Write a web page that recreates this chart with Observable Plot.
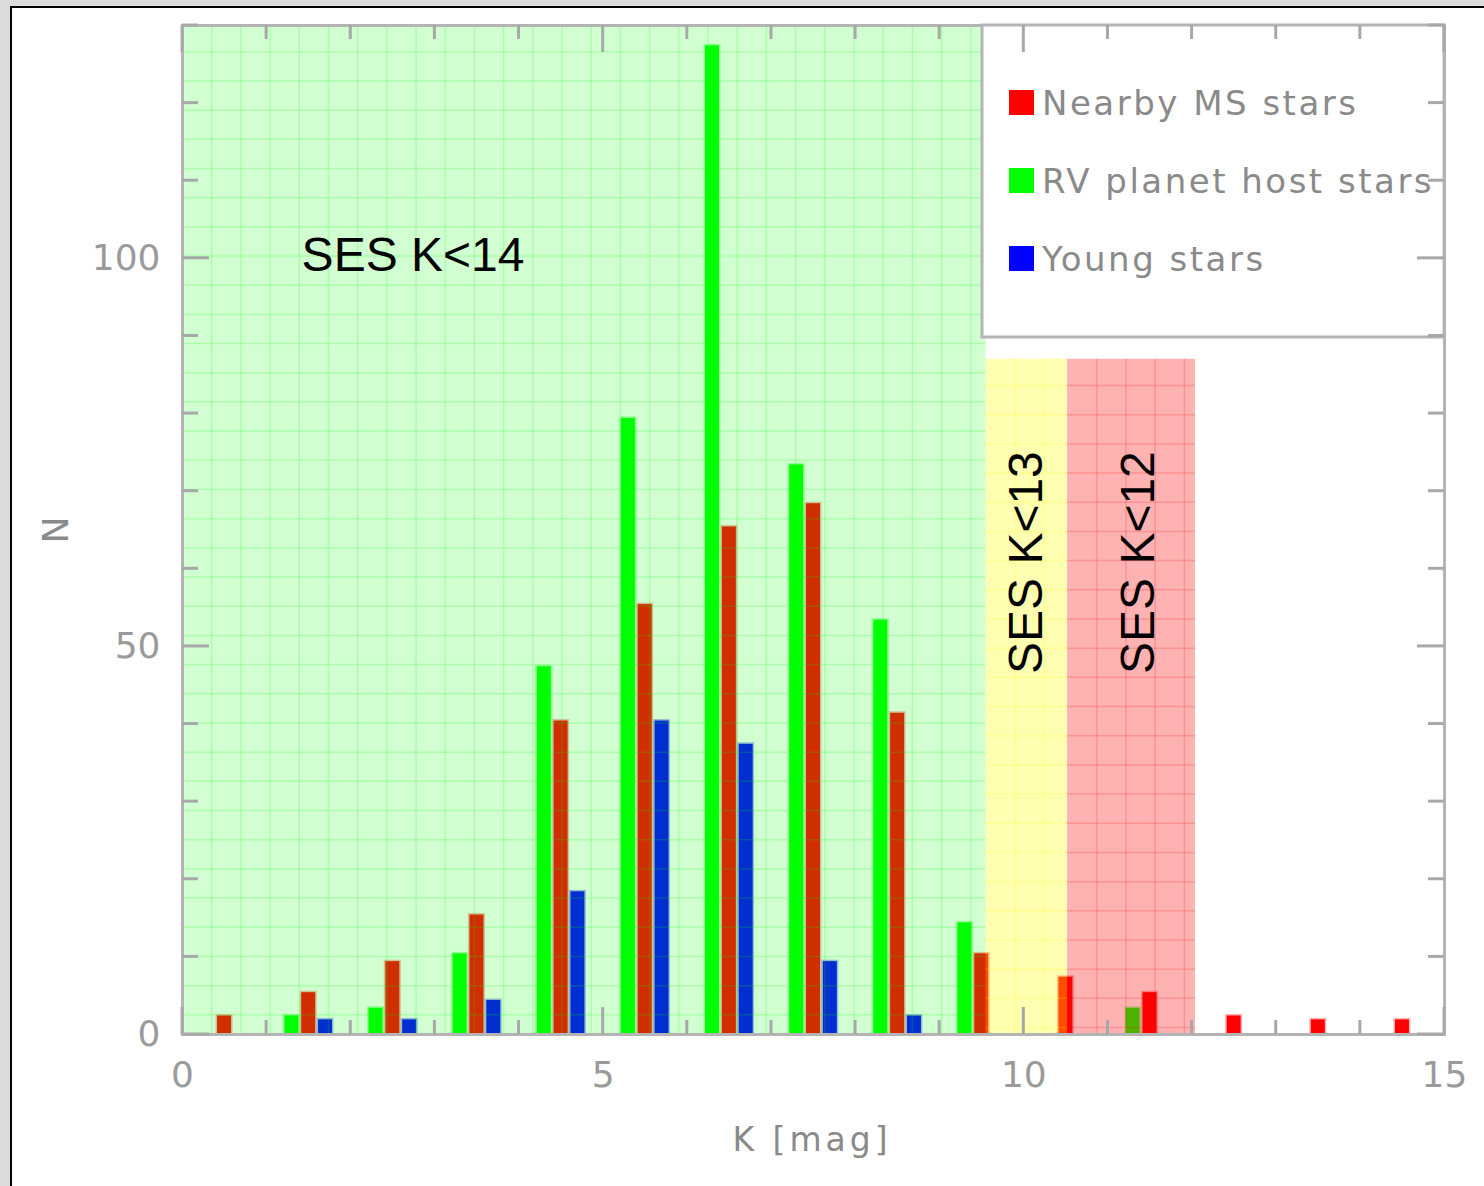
<!DOCTYPE html>
<html>
<head>
<meta charset="utf-8">
<script src="https://cdn.jsdelivr.net/npm/d3@7"></script>
<script src="https://cdn.jsdelivr.net/npm/@observablehq/plot@0.6"></script>
<style>
  html, body { margin: 0; padding: 0; background: #dcdcdc; overflow: hidden; }
  #panel {
    position: absolute; left: 10px; top: 6px; width: 1480px; height: 1190px;
    background: #ffffff; border-left: 2px solid #000; border-top: 2px solid #000;
  }
  #panel svg { display: block; }
</style>
</head>
<body>
<div id="panel"></div>
<script>
// K-band magnitude bins (lower edge of each 1-mag bin)
const bins = [0, 1, 2, 3, 4, 5, 6, 7, 8, 9, 10, 11, 12, 13, 14];

// Number of stars per bin for each sample
const nearbyMS   = [2, 5, 9, 15, 40, 55, 65, 68, 41, 10, 7, 5, 2, 1.5, 1.5];
const rvHosts    = [0, 2, 3, 10, 47, 79, 127, 73, 53, 14, 0, 3, 0, 0, 0];
const youngStars = [0, 1.5, 1.5, 4, 18, 40, 37, 9, 2, 0, 0, 0, 0, 0, 0];

// Sample names and colours (legend order)
const seriesNames  = ["Nearby MS stars", "RV planet host stars", "Young stars"];
const seriesColors = ["#ff0000", "#00ff00", "#0000ff"];

// Survey depth zones: K limit reached per zone
const zoneLabels = ["SES K<14", "SES K<13", "SES K<12"];
const zoneFrom   = [0, 9.55, 10.52];
const zoneTo     = [9.55, 10.52, 12.04];
const zoneTop    = [130, 87, 87];
const zoneColors = ["#00ff00", "#ffff00", "#ff0000"];

// Axis ticks
const xTickLabels = [0, 5, 10, 15];
const yTickLabels = [0, 50, 100];

// ---- build tables ----
const slotOffset = { "Nearby MS stars": 0.5, "RV planet host stars": 0.3, "Young stars": 0.7 };
const halfWidth = 0.083;
const seriesValues = [nearbyMS, rvHosts, youngStars];
const bars = [];
seriesNames.forEach((name, s) => {
  bins.forEach((b, i) => {
    const n = seriesValues[s][i];
    if (n > 0) {
      const c = b + slotOffset[name];
      bars.push({ series: name, color: seriesColors[s], x1: c - halfWidth, x2: c + halfWidth, n });
    }
  });
});

const zones = zoneLabels.map((label, i) => ({
  label, from: zoneFrom[i], to: zoneTo[i], top: zoneTop[i], color: zoneColors[i]
}));

// fine square grid inside each zone
const gridDx = 0.347, gridDy = 3.76;
const gridV = [], gridH = [];
zones.forEach(z => {
  d3.range(z.from + gridDx, z.to - 0.02, gridDx).forEach(x => gridV.push({ x, top: z.top, color: z.color }));
  d3.range(z.top - gridDy * 0.9, 0.5, -gridDy).forEach(y => gridH.push({ y, from: z.from, to: z.to, color: z.color }));
});

const zoneText = [
  { label: zoneLabels[0], x: 2.74, y: 100.3, rotate: 0 },
  { label: zoneLabels[1], x: 10.03, y: 60.8, rotate: -90 },
  { label: zoneLabels[2], x: 11.36, y: 60.8, rotate: -90 }
];

const W = 1472, H = 1178;
const axisGrey = "#9a9a9a";

const barMarks = seriesNames.map((name, s) =>
  Plot.rectY(bars.filter(d => d.series === name), {
    x1: "x1", x2: "x2", y1: 0, y2: "n",
    fill: seriesColors[s], stroke: seriesColors[s], strokeOpacity: 0.3, strokeWidth: 3,
    insetTop: -3
  })
);

const plot = Plot.plot({
  width: W, height: H,
  marginLeft: 170, marginRight: 40, marginTop: 17, marginBottom: 152,
  x: { domain: [0, 15] },
  y: { domain: [0, 130] },
  style: { background: "transparent", fontFamily: "DejaVu Sans", overflow: "visible" },
  marks: [
    ...barMarks,
    Plot.rect(zones, { x1: "from", x2: "to", y1: 0, y2: "top", fill: "color", fillOpacity: d => d.label === zoneLabels[0] ? 0.18 : 0.3 }),
    Plot.ruleX(gridV, { x: "x", y1: 0, y2: "top", stroke: "color", strokeOpacity: 0.18, strokeWidth: 1.5 }),
    Plot.ruleY(gridH, { y: "y", x1: "from", x2: "to", stroke: "color", strokeOpacity: 0.18, strokeWidth: 1.5 }),
    Plot.text(zoneText.filter(d => d.rotate === 0), {
      x: "x", y: "y", text: "label", fontSize: 48, fontFamily: "Liberation Sans", fill: "#000"
    }),
    Plot.text(zoneText.filter(d => d.rotate !== 0), {
      x: "x", y: "y", text: "label", rotate: -90, fontSize: 48, fontFamily: "Liberation Sans", fill: "#000"
    }),
    Plot.frame({ stroke: "#b4b4b4", strokeWidth: 3 }),
    Plot.axisX(xTickLabels, { tickSize: 0, tickPadding: 27, fontSize: 36, color: axisGrey, label: null }),
    Plot.axisY(yTickLabels, { tickSize: 0, tickPadding: 22, fontSize: 36, color: axisGrey, label: null })
  ]
});

document.getElementById("panel").appendChild(plot);

// ---- legend box, frame ticks and axis titles ----
const svg = d3.select(plot);
const sx = plot.scale("x"), sy = plot.scale("y");
const X = v => sx.apply(v), Y = v => sy.apply(v);

const legend = svg.append("g").attr("text-anchor", "start");
legend.append("rect")
  .attr("x", 970).attr("y", Y(130))
  .attr("width", X(15) - 970).attr("height", 312)
  .attr("fill", "#fff").attr("stroke", "#b4b4b4").attr("stroke-width", 3);
seriesNames.forEach((name, i) => {
  const y0 = 82 + i * 78;
  legend.append("rect")
    .attr("x", 997).attr("y", y0).attr("width", 25).attr("height", 25)
    .attr("fill", seriesColors[i]);
  legend.append("text")
    .attr("x", 1030).attr("y", y0 + 25)
    .attr("text-anchor", "start")
    .attr("font-family", "DejaVu Sans").attr("font-size", 34)
    .attr("letter-spacing", 2.5).attr("fill", "#8a8a8a")
    .text(name);
});

const ticks = svg.append("g").attr("stroke", "#a8a8a8").attr("stroke-width", 3);
d3.range(0, 16).forEach(k => {
  const len = k % 5 === 0 ? 27 : 14;
  ticks.append("line").attr("x1", X(k)).attr("x2", X(k)).attr("y1", Y(0)).attr("y2", Y(0) - len);
  ticks.append("line").attr("x1", X(k)).attr("x2", X(k)).attr("y1", Y(130)).attr("y2", Y(130) + len);
});
d3.range(0, 131, 10).forEach(v => {
  const len = v % 50 === 0 ? 27 : 16;
  ticks.append("line").attr("x1", X(0)).attr("x2", X(0) + len).attr("y1", Y(v)).attr("y2", Y(v));
  ticks.append("line").attr("x1", X(15)).attr("x2", X(15) - len).attr("y1", Y(v)).attr("y2", Y(v));
});

svg.append("text")
  .attr("transform", `translate(${43},${522}) rotate(-90)`)
  .attr("text-anchor", "middle").attr("dominant-baseline", "central")
  .attr("font-family", "DejaVu Sans").attr("font-size", 36).attr("fill", "#8a8a8a")
  .text("N");
svg.append("text")
  .attr("x", 800).attr("y", 1131)
  .attr("text-anchor", "middle").attr("dominant-baseline", "central")
  .attr("font-family", "DejaVu Sans").attr("font-size", 33).attr("letter-spacing", 4)
  .attr("fill", "#8a8a8a")
  .text("K [mag]");
</script>
</body>
</html>
